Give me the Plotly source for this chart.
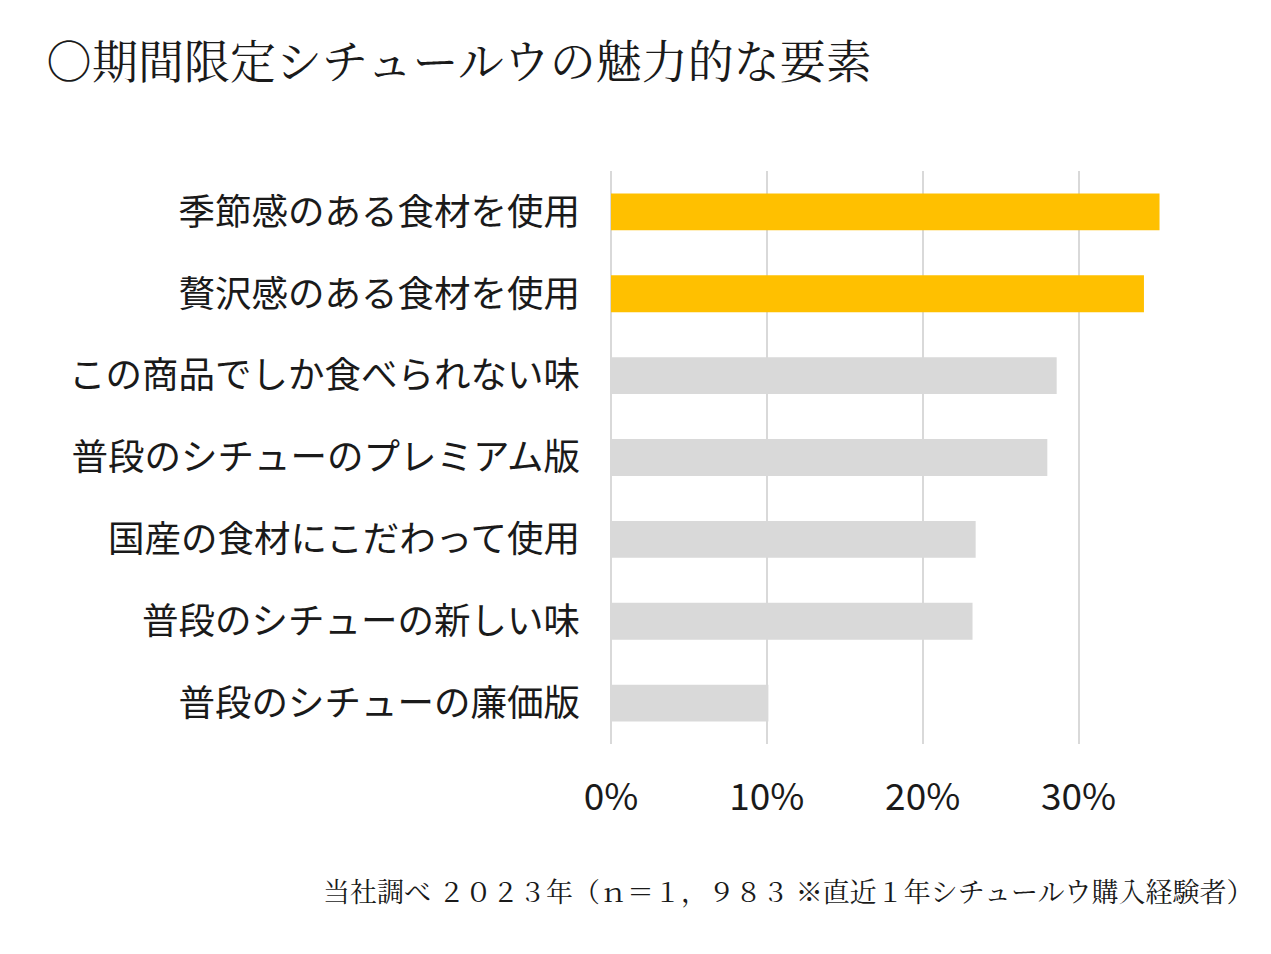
import plotly.graph_objects as go

categories = [
    "季節感のある食材を使用",
    "贅沢感のある食材を使用",
    "この商品でしか食べられない味",
    "普段のシチューのプレミアム版",
    "国産の食材にこだわって使用",
    "普段のシチューの新しい味",
    "普段のシチューの廉価版",
]
values = [0.352, 0.342, 0.286, 0.280, 0.234, 0.232, 0.101]
highlighted = [True, True, False, False, False, False, False]
tick_vals = [0, 0.1, 0.2, 0.3]
tick_text = ["0%", "10%", "20%", "30%"]

title_text = "○期間限定シチュールウの魅力的な要素"
note_text = "当社調べ ２０２３年（ｎ＝１，９８３ ※直近１年シチュールウ購入経験者）"

W, H = 1271, 954
# page body has an 8px margin, so figure coords = screenshot coords - 8
L, R, T, B = 603, 107, 163, 218
PW, PH = W - L - R, H - T - B

colors = ["#FFC000" if h else "#D9D9D9" for h in highlighted]

fig = go.Figure(go.Bar(
    x=values, y=categories, orientation="h",
    marker=dict(color=colors, line=dict(width=0)),
    hoverinfo="x+y",
))

sans = "Noto Sans CJK JP, Noto Sans, sans-serif"
serif = "Noto Serif CJK JP, Noto Sans CJK JP, serif"

fig.update_layout(
    width=W, height=H,
    margin=dict(l=L, r=R, t=T, b=B, pad=0),
    paper_bgcolor="white", plot_bgcolor="white",
    bargap=0.55,
    showlegend=False,
    title=dict(text=title_text, x=38 / W, xanchor="left", xref="container",
               y=1 - 54 / H, yanchor="middle", yref="container",
               font=dict(family=serif, size=46, color="#1a1a1a")),
    xaxis=dict(range=[0, 0.36], tickvals=tick_vals, ticktext=tick_text,
               showgrid=True, gridcolor="#D9D9D9", gridwidth=2,
               zeroline=True, zerolinecolor="#D9D9D9", zerolinewidth=2,
               showline=False, ticks="", ticklabelstandoff=28,
               tickfont=dict(family=sans, size=37, color="#1a1a1a")),
    yaxis=dict(autorange="reversed", showgrid=False, showline=False,
               ticks="", ticklabelstandoff=30,
               tickfont=dict(family=sans, size=36.5, color="#1a1a1a")),
    annotations=[dict(text=note_text, xref="paper", yref="paper",
                      x=(1247 - L) / PW, y=-(882 - (H - B)) / PH,
                      xanchor="right", yanchor="middle", showarrow=False,
                      font=dict(family=serif, size=27, color="#1a1a1a"))],
)

fig.write_html("out.html")
